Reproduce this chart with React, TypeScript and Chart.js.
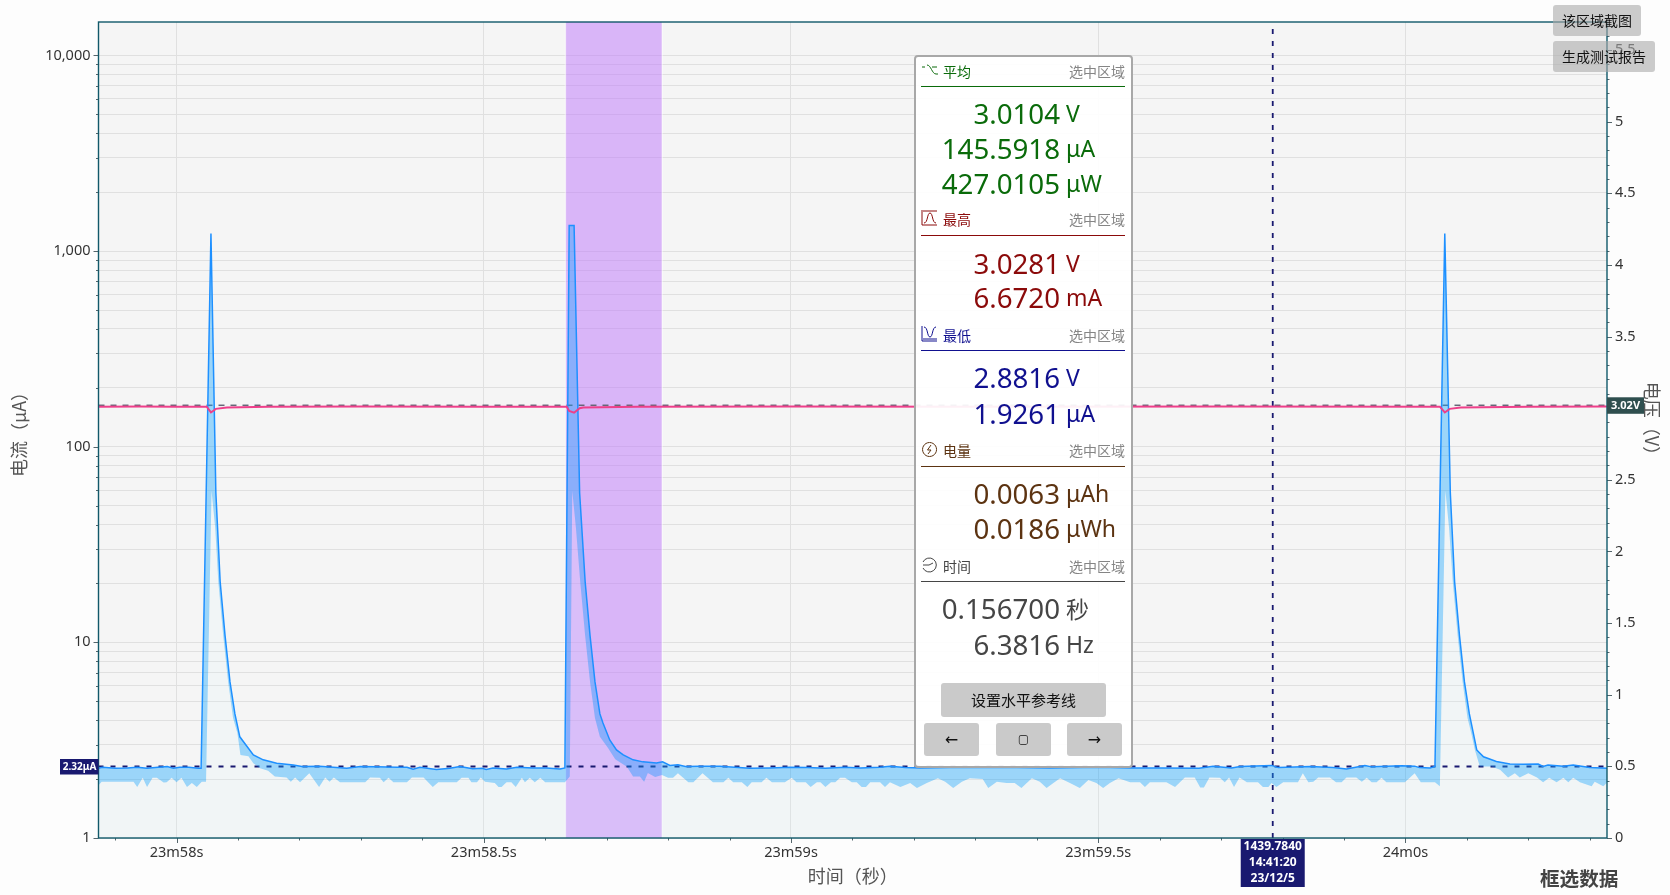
import React, { useEffect, useRef } from "react";
import { Chart, registerables } from "chart.js";

Chart.register(...registerables);

const FONT = '"Noto Sans", "Noto Sans CJK SC", sans-serif';
const CJK = '"Noto Sans CJK SC", "Noto Sans", sans-serif';

// Time base: 23m58s in seconds; the sample times below are milliseconds after it.
const baseSeconds = 1438;
const xMin = 1437.873;
const xMax = 1440.328;
const yMin = 1;
const yMax = 14830;
const vMax = 5.695;

const meanMs = [-128,-120,-100,-80,-64,-48,-30,-15,-5,5,20,35,40,56,64,71,79,87,95,103,125,141,163,190,204,233,277,299,326,359,375,385,396,423,445,461,482,497,504,515,537,554,580,602,624,632,639,647,656,665,673,681,689,694,705,716,727,743,759,781,791,803,816,828,852,884,933,966,998,1027,1056,1088,1113,1145,1161,1186,1210,1259,1340,1421,1502,1554,1605,1664,1687,1717,1731,1782,1793,1845,1882,1904,1934,1945,1994,2015,2023,2040,2048,2064,2073,2080,2088,2096,2104,2116,2127,2148,2170,2192,2216,2224,2232,2257,2273,2300,2329];
const meanUA = [2.27,2.3,2.27,2.28,2.3,2.27,2.3,2.32,2.27,2.3,2.3,2.27,2.27,1230,58.2,20.4,10.8,6.28,4.31,3.29,2.66,2.51,2.41,2.36,2.32,2.33,2.27,2.32,2.31,2.3,2.3,2.25,2.3,2.24,2.27,2.32,2.26,2.27,2.24,2.28,2.25,2.3,2.28,2.28,2.25,2.28,1350,1350,58.2,20.4,10.8,6.28,4.31,3.87,3.17,2.82,2.66,2.51,2.45,2.42,2.45,2.35,2.37,2.32,2.33,2.33,2.27,2.28,2.3,2.29,2.27,2.3,2.28,2.3,2.33,2.29,2.28,2.29,2.3,2.28,2.3,2.28,2.28,2.27,2.33,2.28,2.32,2.35,2.29,2.32,2.29,2.25,2.35,2.31,2.34,2.33,2.29,2.28,2.32,1230,58.2,20.4,10.8,6.28,4.31,2.82,2.6,2.46,2.39,2.38,2.39,2.32,2.36,2.33,2.36,2.29,2.27];

const minMs = [-128,-122,-70,-64,-55,-48,-39,-32,-21,-16,-8,0,8,17,25,33,41,48,57,63,68,76,84,92,99,104,117,125,136,149,160,179,186,193,201,216,232,242,249,256,266,307,315,331,337,345,353,375,383,402,417,426,456,464,475,480,489,495,502,518,524,529,537,545,552,562,567,575,583,592,600,632,640,644,650,657,665,673,681,689,702,714,733,743,754,761,767,779,790,800,808,816,833,841,856,873,890,898,906,920,929,936,952,960,969,990,1001,1009,1024,1032,1042,1048,1056,1065,1072,1080,1088,1099,1107,1115,1122,1129,1145,1153,1161,1178,1194,1205,1221,1239,1251,1264,1278,1291,1312,1321,1335,1351,1364,1375,1392,1405,1416,1427,1438,1454,1470,1484,1497,1508,1519,1533,1552,1568,1576,1584,1611,1625,1641,1657,1666,1672,1681,1698,1706,1713,1721,1730,1742,1760,1768,1777,1782,1790,1801,1825,1833,1842,1850,1858,1877,1887,1896,1904,1920,1929,1937,1945,1953,1961,1969,1999,2015,2025,2048,2056,2065,2071,2077,2085,2093,2101,2107,2113,2121,2140,2154,2167,2178,2186,2200,2214,2224,2234,2246,2257,2265,2273,2284,2303,2308,2322,2329];
const minUA = [1.84,1.94,1.94,1.82,2.03,1.82,2.03,2.03,1.92,1.93,2.03,1.93,2.03,1.82,1.91,1.82,1.94,1.94,59.6,38.3,20.4,10.8,6.28,4.11,3.44,2.66,2.62,2.41,2.27,2.21,2.06,2.04,1.94,2.04,1.93,2.14,1.82,2.04,1.94,2.04,1.93,1.93,2.04,2.03,1.93,2.03,1.93,1.93,2.04,2.04,1.82,1.93,1.93,2.03,2.03,1.93,1.93,2.04,1.94,1.91,1.82,1.82,1.93,1.93,1.82,2.03,1.93,2.03,1.93,2.03,1.93,1.93,2.06,59.6,38.5,20.4,10.8,6.28,4.11,3.29,2.89,2.53,2.31,2.06,2.06,1.94,2.15,2.05,2.1,2.03,2.03,2.14,1.93,1.93,2.14,1.93,1.93,2.03,1.93,1.93,1.82,1.93,1.93,2.03,1.93,1.93,2.03,1.93,1.93,1.82,1.93,1.93,1.82,1.93,1.93,2.03,2.03,1.93,1.93,1.82,1.82,1.93,1.93,1.82,1.93,1.82,1.91,1.8,1.91,2.02,1.94,1.8,1.94,2.02,2,1.8,1.94,1.91,1.91,1.8,2.02,1.94,1.8,1.91,2.02,1.91,1.8,1.98,1.91,1.8,1.91,2.02,1.93,1.93,1.82,1.93,1.93,1.82,2.04,2.04,1.81,1.81,2.04,2.03,1.93,2.04,1.82,2.04,1.93,1.93,1.82,1.82,1.91,1.82,1.93,1.93,2.14,1.93,1.94,2.04,2.04,1.93,1.93,2.04,2.04,1.94,2.03,1.93,1.93,2.03,1.93,1.93,2.14,1.93,1.93,1.84,59.6,38.3,20.4,10.8,6.28,4.11,3.44,2.82,2.32,2.32,2.23,2.04,2.14,2.04,2.14,2.04,1.93,2.03,1.93,2.03,1.93,2.03,1.93,1.84,1.94,1.84,1.93];

const voltMs = [-128,-60,0,49,56,64,82,150,300,500,635,639,647,656,662,750,1000,1300,1700,2056,2064,2072,2090,2200,2329];
const voltV = [3.01,3.012,3.01,3.01,2.97,2.995,3.005,3.01,3.012,3.01,3.01,2.98,2.968,3.0,3.005,3.01,3.012,3.01,3.012,3.01,2.97,2.995,3.005,3.01,3.012];

const refCurrent = 2.32;
const refVoltage = 3.02;
const cursorTime = 1439.784;
const selectionStart = 1438.6333;
const selectionEnd = 1438.79;

const xTicks = [1437.9,1438,1438.1,1438.2,1438.3,1438.4,1438.5,1438.6,1438.7,1438.8,1438.9,1439,1439.1,1439.2,1439.3,1439.4,1439.5,1439.6,1439.7,1439.8,1439.9,1440,1440.1,1440.2,1440.3];
const xTickLabels: Record<string, string> = { "1438": "23m58s", "1438.5": "23m58.5s", "1439": "23m59s", "1439.5": "23m59.5s", "1440": "24m0s" };
const yTicks = [1,2,3,4,5,6,7,8,9,10,20,30,40,50,60,70,80,90,100,200,300,400,500,600,700,800,900,1000,2000,3000,4000,5000,6000,7000,8000,9000,10000];
const yTickLabels: Record<string, string> = { "1": "1", "10": "10", "100": "100", "1000": "1,000", "10000": "10,000" };
const vTicks = [0,0.1,0.2,0.3,0.4,0.5,0.6,0.7,0.8,0.9,1,1.1,1.2,1.3,1.4,1.5,1.6,1.7,1.8,1.9,2,2.1,2.2,2.3,2.4,2.5,2.6,2.7,2.8,2.9,3,3.1,3.2,3.3,3.4,3.5,3.6,3.7,3.8,3.9,4,4.1,4.2,4.3,4.4,4.5,4.6,4.7,4.8,4.9,5,5.1,5.2,5.3,5.4,5.5,5.6];
const vTickLabels: Record<string, string> = { "0": "0", "0.5": "0.5", "1": "1", "1.5": "1.5", "2": "2", "2.5": "2.5", "3": "3", "3.5": "3.5", "4": "4", "4.5": "4.5", "5": "5", "5.5": "5.5" };
const cursorLabels = ["1439.7840", "14:41:20", "23/12/5"];
const currentBadge = "2.32μA";
const voltageBadge = "3.02V";
const voltageTitle = "电压（V）";

const toPoints = (ms: number[], vals: number[]) => ms.map((m, i) => ({ x: baseSeconds + m / 1000, y: vals[i] }));

const chartPlugin = {
  id: "scopeDecor",
  beforeDatasetsDraw(chart: any) {
    const { ctx, chartArea: a, scales } = chart;
    const x0 = scales.x.getPixelForValue(selectionStart);
    const x1 = scales.x.getPixelForValue(selectionEnd);
    ctx.save();
    ctx.fillStyle = "rgba(189,117,251,0.5)";
    ctx.fillRect(x0, a.top, x1 - x0, a.bottom - a.top);
    ctx.fillStyle = "rgba(255,255,255,0.45)";
    ctx.fillRect(x0 - 1, a.top, 1.5, a.bottom - a.top);
    ctx.fillRect(x1 - 0.5, a.top, 1.5, a.bottom - a.top);
    ctx.restore();
  },
  afterDraw(chart: any) {
    const { ctx, chartArea: a, scales } = chart;
    ctx.save();
    // tick marks
    ctx.strokeStyle = "#55666c";
    ctx.lineWidth = 1;
    ctx.beginPath();
    scales.y.ticks.forEach((t: any) => {
      const p = Math.round(scales.y.getPixelForValue(t.value)) + 0.5;
      const len = yTickLabels[String(t.value)] ? 5 : 2.5;
      ctx.moveTo(a.left - len, p);
      ctx.lineTo(a.left, p);
    });
    scales.v.ticks.forEach((t: any) => {
      const p = Math.round(scales.v.getPixelForValue(t.value)) + 0.5;
      const len = vTickLabels[String(t.value)] ? 5 : 2.5;
      ctx.moveTo(a.right, p);
      ctx.lineTo(a.right + len, p);
    });
    scales.x.ticks.forEach((t: any) => {
      const p = Math.round(scales.x.getPixelForValue(t.value)) + 0.5;
      const len = xTickLabels[String(t.value)] ? 5 : 2.5;
      ctx.moveTo(p, a.bottom);
      ctx.lineTo(p, a.bottom + len);
    });
    ctx.stroke();
    // plot frame
    ctx.strokeStyle = "#11596a";
    ctx.lineWidth = 1.4;
    ctx.strokeRect(a.left, a.top, a.right - a.left, a.bottom - a.top);
    // badges
    ctx.textAlign = "center";
    ctx.textBaseline = "middle";
    const iy = scales.y.getPixelForValue(refCurrent);
    ctx.fillStyle = "#191970";
    ctx.fillRect(a.left - 38.5, iy - 7.5, 38.5, 15.5);
    ctx.fillStyle = "#fff";
    ctx.font = `bold 10px ${FONT}`;
    ctx.fillText(currentBadge, a.left - 19, iy + 0.5);
    const vy = scales.v.getPixelForValue(refVoltage);
    ctx.fillStyle = "#2f4f4f";
    ctx.fillRect(a.right, vy - 8, 37, 16.5);
    ctx.fillStyle = "#fff";
    ctx.font = `bold 11px ${FONT}`;
    ctx.fillText(voltageBadge, a.right + 18.5, vy + 0.5);
    const cx = scales.x.getPixelForValue(cursorTime);
    ctx.fillStyle = "#191970";
    ctx.fillRect(cx - 32, a.bottom + 1, 64, 48);
    ctx.fillStyle = "#fff";
    ctx.font = `bold 12px ${FONT}`;
    cursorLabels.forEach((s, i) => ctx.fillText(s, cx, a.bottom + 9 + i * 16));
    // right axis title
    ctx.translate(1652, 423);
    ctx.rotate(Math.PI / 2);
    ctx.fillStyle = "#555";
    ctx.font = `18px ${CJK}`;
    ctx.fillText(voltageTitle, 0, 0);
    ctx.restore();
  },
};

type Row = { value: string; unit: string };
type Section = { title: string; color: string; headY: number; lineY: number; icon: string; rows: (Row & { y: number })[] };

const scopeLabel = "选中区域";
const sections: Section[] = [
  { title: "平均", color: "#0a6b0a", headY: 71, lineY: 86, icon: "M1 5 H4 M6 3 C10 3 11 12 15 12 H17 M11 5 H16", rows: [
    { value: "3.0104", unit: "V", y: 113 }, { value: "145.5918", unit: "μA", y: 148 }, { value: "427.0105", unit: "μW", y: 183 } ] },
  { title: "最高", color: "#8b0a0a", headY: 219, lineY: 235, icon: "M1 0 V15 H16 M3 13 C7 13 6 3 9 3 C12 3 11 13 15 13 M2 1 H16", rows: [
    { value: "3.0281", unit: "V", y: 263 }, { value: "6.6720", unit: "mA", y: 297 } ] },
  { title: "最低", color: "#10108f", headY: 335, lineY: 350, icon: "M1 0 V15 H16 M3 1 C7 1 6 11 9 11 C12 11 11 1 15 1 M2 13 H16", rows: [
    { value: "2.8816", unit: "V", y: 377 }, { value: "1.9261", unit: "μA", y: 413 } ] },
  { title: "电量", color: "#5c3311", headY: 450, lineY: 466, icon: "M8.5 1.5 A7 7 0 1 0 8.6 1.5 M10 4 L6.5 9 H10 L7 13", rows: [
    { value: "0.0063", unit: "μAh", y: 493 }, { value: "0.0186", unit: "μWh", y: 528 } ] },
  { title: "时间", color: "#454545", headY: 566, lineY: 581, icon: "M2 5 A7 7 0 1 1 2 11 M8 8 L12 6 M2 8 H8", rows: [
    { value: "0.156700", unit: "秒", y: 608 }, { value: "6.3816", unit: "Hz", y: 644 } ] },
];
const setRefLabel = "设置水平参考线";
const navLabels = ["←", "▢", "→"];
const navSizes = [16, 12, 16];
const navLefts = [924, 996, 1067];
const topButtons = [
  { label: "该区域截图", left: 1553, top: 5, width: 88, height: 31 },
  { label: "生成测试报告", left: 1553, top: 41, width: 102, height: 31 },
];
const cornerLabel = "框选数据";

const abs = (o: React.CSSProperties): React.CSSProperties => ({ position: "absolute", whiteSpace: "nowrap", ...o });

export default function App() {
  const ref = useRef<HTMLCanvasElement | null>(null);

  useEffect(() => {
    document.body.style.margin = "0";
    document.body.style.background = "#fdfdfd";
    const meanPts = toPoints(meanMs, meanUA);
    const minPts = toPoints(minMs, minUA);
    const voltPts = toPoints(voltMs, voltV);
    const axisFont = { family: FONT, size: 14.5 };
    const titleFont = { family: CJK, size: 18 };
    const chart = new Chart(ref.current as HTMLCanvasElement, {
      type: "line",
      data: {
        datasets: [
          { label: "电压", yAxisID: "v", data: voltPts, borderColor: "#ee3f8a", borderWidth: 2, fill: false },
          { label: "平均电流", yAxisID: "y", data: meanPts, borderColor: "#1e90ff", borderWidth: 1.5, fill: { target: 5 }, backgroundColor: "rgba(20,165,255,0.4)" },
          { label: "电压参考", yAxisID: "v", data: [{ x: xMin, y: refVoltage }, { x: xMax, y: refVoltage }], borderColor: "#667", borderWidth: 1.5, borderDash: [6, 6], fill: false },
          { label: "电流参考", yAxisID: "y", data: [{ x: xMin, y: refCurrent }, { x: xMax, y: refCurrent }], borderColor: "#191970", borderWidth: 1.8, borderDash: [5, 7], fill: false },
          { label: "游标", yAxisID: "y", data: [{ x: cursorTime, y: yMin }, { x: cursorTime, y: yMax }], borderColor: "#191970", borderWidth: 1.8, borderDash: [5, 7], fill: false },
          { label: "最小电流", yAxisID: "y", data: minPts, borderColor: "transparent", borderWidth: 0, fill: "start", backgroundColor: "rgba(220,245,255,0.14)" },
        ],
      } as any,
      options: {
        responsive: false,
        animation: false,
        devicePixelRatio: 1,
        layout: { padding: { top: 22, left: 0, right: 0, bottom: 0 } },
        elements: { point: { radius: 0 }, line: { tension: 0 } },
        plugins: { legend: { display: false }, tooltip: { enabled: false } },
        scales: {
          x: {
            type: "linear", min: xMin, max: xMax,
            afterBuildTicks: (s: any) => { s.ticks = xTicks.map((value) => ({ value })); },
            afterFit: (s: any) => { s.height = 57; },
            grid: { drawTicks: false, color: (c: any) => (c.tick && xTickLabels[String(c.tick.value)] ? "#e0e0e0" : "transparent") },
            border: { display: false },
            ticks: { autoSkip: false, maxRotation: 0, padding: 6, color: "#333", font: axisFont, callback: (v: any) => xTickLabels[String(v)] ?? "" },
            title: { display: true, text: "时间（秒）", color: "#555", font: titleFont, padding: { top: 2, bottom: 8 } },
          },
          y: {
            type: "logarithmic", position: "left", min: yMin, max: yMax,
            afterBuildTicks: (s: any) => { s.ticks = yTicks.map((value) => ({ value })); },
            afterFit: (s: any) => { s.width = 98.5; },
            grid: { drawTicks: false, color: "#e0e0e0" },
            border: { display: false },
            ticks: { autoSkip: false, padding: 8, color: "#333", font: axisFont, callback: (v: any) => yTickLabels[String(v)] ?? "" },
            title: { display: true, text: "电流（μA）", color: "#555", font: titleFont, padding: { top: 8, bottom: 0 } },
          },
          v: {
            type: "linear", position: "right", min: 0, max: vMax,
            afterBuildTicks: (s: any) => { s.ticks = vTicks.map((value) => ({ value })); },
            afterFit: (s: any) => { s.width = 63; },
            grid: { display: false, drawTicks: false },
            border: { display: false },
            ticks: { autoSkip: false, padding: 8, color: "#333", font: axisFont, callback: (v: any) => vTickLabels[String(v)] ?? "" },
          },
        },
      } as any,
      plugins: [
        { id: "plotBg", beforeDraw(c: any) { const a = c.chartArea; c.ctx.save(); c.ctx.fillStyle = "#f5f5f5"; c.ctx.fillRect(a.left, a.top, a.right - a.left, a.bottom - a.top); c.ctx.restore(); } },
        chartPlugin,
      ] as any,
    });
    return () => chart.destroy();
  }, []);

  return (
    <div style={{ position: "relative", width: 1670, height: 895, overflow: "hidden", background: "#fdfdfd", fontFamily: FONT }}>
      <canvas ref={ref} width={1670} height={895} style={{ display: "block", width: 1670, height: 895 }} />

      {/* statistics panel */}
      <div style={abs({ left: 914, top: 55, width: 214.5, height: 709, background: "rgba(255,255,255,0.92)", border: "2px solid #a8a8a8", borderRadius: 4 })} />
      {sections.map((s) => (
        <React.Fragment key={s.title}>
          <svg width="17" height="17" style={{ position: "absolute", left: 921, top: s.headY - 9 }} fill="none" stroke={s.color} strokeWidth="1">
            <path d={s.icon} />
          </svg>
          <div style={abs({ left: 943, top: s.headY - 11, lineHeight: "22px", fontSize: 14, color: s.color, fontFamily: CJK })}>{s.title}</div>
          <div style={abs({ right: 1670 - 1125, top: s.headY - 11, lineHeight: "22px", fontSize: 14, color: "#858585", fontFamily: CJK })}>{scopeLabel}</div>
          <div style={abs({ left: 921, top: s.lineY, width: 204, height: 1.3, background: s.color })} />
          {s.rows.map((r) => (
            <React.Fragment key={r.value}>
              <div style={abs({ right: 1670 - 1060, top: r.y - 20, lineHeight: "40px", fontSize: 27.7, color: s.color, fontFamily: FONT })}>{r.value}</div>
              <div style={abs({ left: 1066, top: r.y - 20, lineHeight: "40px", fontSize: 23, color: s.color, fontFamily: r.unit === "秒" ? CJK : FONT })}>{r.unit}</div>
            </React.Fragment>
          ))}
        </React.Fragment>
      ))}
      <div style={abs({ left: 941, top: 683, width: 165, height: 34, lineHeight: "33px", background: "#cacaca", borderRadius: 3, textAlign: "center", fontSize: 15, color: "#111", fontFamily: CJK })}>{setRefLabel}</div>
      {navLabels.map((t, i) => (
        <div key={t} style={abs({ left: navLefts[i], top: 723, width: 55, height: 33, lineHeight: "33px", background: "#cacaca", borderRadius: 3, textAlign: "center", fontSize: navSizes[i], color: "#111", fontFamily: '"DejaVu Sans", sans-serif' })}>{t}</div>
      ))}

      {/* top-right buttons */}
      {topButtons.map((b) => (
        <div key={b.label} style={abs({ left: b.left, top: b.top, width: b.width, height: b.height, lineHeight: `${b.height - 1}px`, background: "rgba(170,170,170,0.6)", borderRadius: 3, textAlign: "center", fontSize: 14, color: "#111", fontFamily: CJK })}>{b.label}</div>
      ))}

      <div style={abs({ left: 1540, top: 864, lineHeight: "28px", fontSize: 19.6, fontWeight: 700, color: "#444", fontFamily: CJK })}>{cornerLabel}</div>
    </div>
  );
}
